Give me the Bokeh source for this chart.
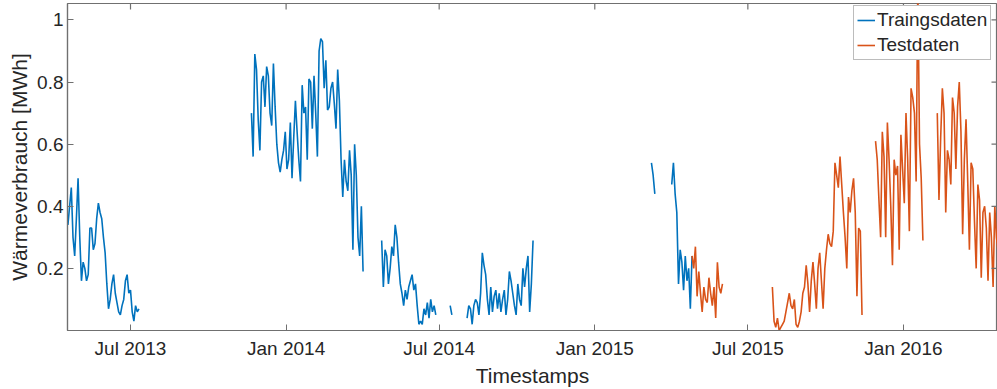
import numpy as np
import pandas as pd
from bokeh.plotting import figure
from bokeh.models import Range1d, FixedTicker, DatetimeTickFormatter, Legend, LegendItem
from bokeh.embed import file_html
from bokeh.resources import INLINE

# ---------------- data (daily heat consumption, sampled every 2 days) ----------------
STEP_DAYS = 2

train_a_start = "2013-04-18"
train_a = [0.34, 0.40, 0.46, 0.30, 0.24, 0.36, 0.49, 0.30, 0.16, 0.22, 0.20, 0.16, 0.18, 0.33,
           0.33, 0.26, 0.28, 0.36, 0.41, 0.38, 0.36, 0.30, 0.25, 0.15, 0.07, 0.10, 0.15, 0.18,
           0.12, 0.09, 0.06, 0.05, 0.08, 0.10, 0.16, 0.18, 0.12, 0.13, 0.06, 0.03, 0.08, 0.06, 0.07]

train_b_start = "2013-11-21"
train_b = [0.70, 0.56, 0.89, 0.84, 0.68, 0.58, 0.80, 0.82, 0.72, 0.85, 0.82, 0.70, 0.66, 0.86,
           0.72, 0.60, 0.54, 0.51, 0.55, 0.58, 0.64, 0.52, 0.55, 0.67, 0.49, 0.62, 0.74, 0.64,
           0.55, 0.48, 0.79, 0.70, 0.72, 0.55, 0.81, 0.80, 0.65, 0.82, 0.70, 0.56, 0.90, 0.94,
           0.93, 0.78, 0.87, 0.71, 0.72, 0.78, 0.80, 0.73, 0.65, 0.84, 0.74, 0.55, 0.43, 0.55,
           0.48, 0.45, 0.58, 0.50, 0.26, 0.60, 0.50, 0.30, 0.24, 0.40, 0.19]

train_c_start = "2014-04-24"
train_c = [0.29, 0.14, 0.26, 0.24, 0.15, 0.20, 0.27, 0.24, 0.34, 0.30, 0.22, 0.15, 0.12, 0.08,
           0.13, 0.10, 0.14, 0.16, 0.18, 0.13, 0.15, 0.08, 0.02, 0.03, 0.02, 0.07, 0.05, 0.09,
           0.04, 0.10, 0.06, 0.08, 0.05]

train_d_start = "2014-07-14"
train_d = [0.08, 0.05]

train_e_start = "2014-08-03"
train_e = [0.04, 0.08, 0.07, 0.02, 0.08, 0.10, 0.09, 0.05, 0.12, 0.25, 0.21, 0.18, 0.10, 0.05,
           0.14, 0.06, 0.11, 0.13, 0.07, 0.12, 0.06, 0.10, 0.13, 0.05, 0.10, 0.19, 0.16, 0.12,
           0.08, 0.05, 0.15, 0.10, 0.08, 0.20, 0.14, 0.20, 0.24, 0.06, 0.15, 0.29]

train_f_start = "2015-03-09"
train_f = [0.54, 0.50, 0.44]

train_g_start = "2015-04-02"
train_g = [0.47, 0.54, 0.44, 0.38, 0.15, 0.26, 0.22, 0.13, 0.24, 0.16, 0.20, 0.07, 0.24]

test_a_start = "2015-04-26"
test_a = [0.24, 0.20, 0.27, 0.11, 0.19, 0.12, 0.06, 0.14, 0.10, 0.09, 0.17, 0.12, 0.08, 0.14,
          0.04, 0.22, 0.14, 0.12, 0.15]

test_b_start = "2015-07-30"
test_b = [0.14, 0.03, 0.01, 0.04, 0.00, 0.01, 0.02, 0.03, 0.06, 0.09, 0.12, 0.08, 0.07, 0.10,
          0.02, 0.01, 0.03, 0.06, 0.12, 0.14, 0.21, 0.15, 0.06, 0.16, 0.22, 0.15, 0.07, 0.20,
          0.25, 0.16, 0.07, 0.20, 0.26, 0.31, 0.28, 0.27, 0.32, 0.54, 0.50, 0.46, 0.56, 0.47,
          0.38, 0.30, 0.20, 0.43, 0.38, 0.45, 0.49, 0.38, 0.11, 0.33, 0.32, 0.05]

test_c_start = "2015-11-29"
test_c = [0.61, 0.55, 0.42, 0.30, 0.64, 0.56, 0.30, 0.67, 0.55, 0.40, 0.21, 0.55, 0.50, 0.53,
          0.26, 0.63, 0.52, 0.41, 0.70, 0.55, 0.32, 0.78, 0.75, 0.70, 0.48, 1.12, 0.60, 0.49, 0.29]

test_d_start = "2016-02-10"
test_d = [0.70, 0.42, 0.62, 0.78, 0.70, 0.38, 0.58, 0.55, 0.47, 0.75, 0.70, 0.52, 0.72, 0.80,
          0.64, 0.31, 0.55, 0.68, 0.48, 0.26, 0.54, 0.52, 0.35, 0.20, 0.47, 0.42, 0.17, 0.38,
          0.40, 0.33, 0.16, 0.38, 0.30, 0.14, 0.40, 0.30, 0.25]

x_tick_dates = ["2013-07-01", "2014-01-01", "2014-07-01", "2015-01-01", "2015-07-01", "2016-01-01"]
y_ticks = [0.2, 0.4, 0.6, 0.8, 1.0]
x_start, x_end = "2013-04-17 12:00", "2016-04-21 05:00"
y_start, y_end = 0.0, 1.053

series_names = ["Traingsdaten", "Testdaten"]


def build(segments):
    xs, ys = [], []
    for start, vals in segments:
        d = pd.date_range(start, periods=len(vals), freq=f"{STEP_DAYS}D")
        xs.extend(list(d))
        ys.extend(vals)
        xs.append(d[-1] + pd.Timedelta(days=1))
        ys.append(np.nan)
    return xs, ys


train_x, train_y = build([(train_a_start, train_a), (train_b_start, train_b), (train_c_start, train_c),
                          (train_d_start, train_d), (train_e_start, train_e), (train_f_start, train_f),
                          (train_g_start, train_g)])
test_x, test_y = build([(test_a_start, test_a), (test_b_start, test_b), (test_c_start, test_c),
                        (test_d_start, test_d)])

BLUE = "#0072BD"
ORANGE = "#D95319"
TXT = "#262626"
AX = "#707070"
FONT = "Liberation Sans"

p = figure(width=997, height=389, x_axis_type="datetime", output_backend="svg", toolbar_location=None,
           x_range=Range1d(pd.Timestamp(x_start), pd.Timestamp(x_end)),
           y_range=Range1d(y_start, y_end),
           min_border_left=67, min_border_right=0, min_border_top=3, min_border_bottom=57)

r_train = p.line(x=train_x, y=train_y, line_color=BLUE, line_width=1.6)
r_test = p.line(x=test_x, y=test_y, line_color=ORANGE, line_width=1.6)

p.xgrid.visible = False
p.ygrid.visible = False
p.outline_line_color = AX
p.outline_line_width = 1.2
p.background_fill_color = "white"
p.border_fill_color = "white"

tick_ms = [pd.Timestamp(d).value / 1e6 for d in x_tick_dates]
p.xaxis.ticker = FixedTicker(ticks=tick_ms)
p.xaxis.formatter = DatetimeTickFormatter(days="%b %Y", months="%b %Y", years="%b %Y",
                                          hours="%b %Y", minutes="%b %Y")
p.yaxis.ticker = FixedTicker(ticks=y_ticks)

for ax in (p.xaxis[0], p.yaxis[0]):
    ax.axis_line_color = AX
    ax.axis_line_width = 1.2
    ax.major_tick_line_color = AX
    ax.major_tick_in = 6
    ax.major_tick_out = 0
    ax.minor_tick_line_color = None
    ax.major_label_text_font = FONT
    ax.major_label_text_font_size = "19px"
    ax.major_label_text_color = TXT
    ax.axis_label_text_font = FONT
    ax.axis_label_text_font_size = "21px"
    ax.axis_label_text_font_style = "normal"
    ax.axis_label_text_color = TXT

p.xaxis.axis_label = "Timestamps"
p.yaxis.axis_label = "Wärmeverbrauch [MWh]"
p.xaxis.major_label_standoff = 7
p.xaxis.axis_label_standoff = 2
p.yaxis.major_label_standoff = 4
p.yaxis.axis_label_standoff = 3

# MATLAB-style box: inward tick marks on the top and right edges (derived from the tick lists)
frame_h_px, frame_w_px, tick_px = 329.0, 930.0, 6.0
x0_ms = pd.Timestamp(x_start).value / 1e6
x1_ms = pd.Timestamp(x_end).value / 1e6
dy = (y_end - y_start) * tick_px / frame_h_px
dx = (x1_ms - x0_ms) * tick_px / frame_w_px
p.segment(x0=tick_ms, y0=[y_end] * len(tick_ms), x1=tick_ms, y1=[y_end - dy] * len(tick_ms),
          line_color=AX, line_width=1.2)
p.segment(x0=[x1_ms] * len(y_ticks), y0=y_ticks, x1=[x1_ms - dx] * len(y_ticks), y1=y_ticks,
          line_color=AX, line_width=1.2)

legend = Legend(items=[LegendItem(label=series_names[0], renderers=[r_train]),
                       LegendItem(label=series_names[1], renderers=[r_test])],
                location=(786, 270))
legend.label_text_font = FONT
legend.label_text_font_size = "19px"
legend.label_text_color = TXT
legend.glyph_width = 18
legend.glyph_height = 20
legend.label_standoff = 2
legend.label_height = 20
legend.spacing = 3
legend.padding = 3
legend.margin = 0
legend.border_line_color = "#7a7a7a"
legend.border_line_width = 1.2
legend.background_fill_color = "white"
legend.background_fill_alpha = 1.0
p.add_layout(legend)

open("out.html", "w").write(file_html(p, INLINE))
